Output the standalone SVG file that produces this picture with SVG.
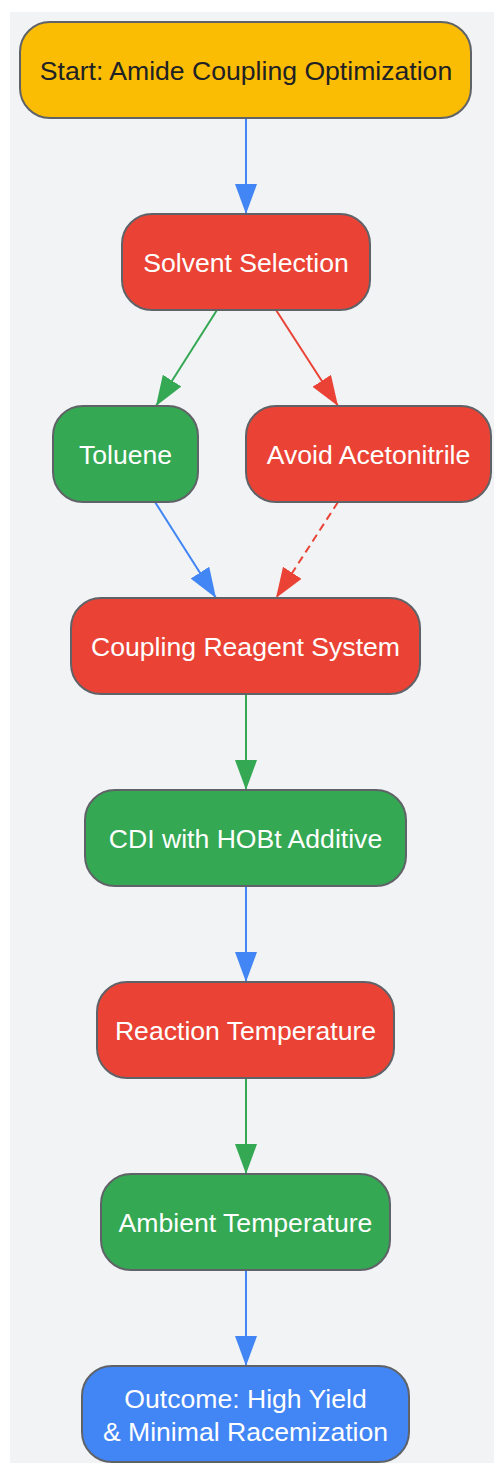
<svg xmlns="http://www.w3.org/2000/svg" width="494" height="1463" viewBox="0 0 494 1463">
<style>
.n{stroke:#5F6368;stroke-width:2}
.t{font-family:"Liberation Sans",Arial,sans-serif;font-size:26.6px;text-anchor:middle;dominant-baseline:central;fill:#ffffff}
.e{fill:none;stroke-width:2}
</style>
<defs>
<marker id="ab" markerUnits="userSpaceOnUse" markerWidth="32" markerHeight="24" refX="30" refY="11" orient="auto"><polygon points="0,0 30,11 0,22" fill="#4285F4"/></marker>
<marker id="ag" markerUnits="userSpaceOnUse" markerWidth="32" markerHeight="24" refX="30" refY="11" orient="auto"><polygon points="0,0 30,11 0,22" fill="#34A853"/></marker>
<marker id="ar" markerUnits="userSpaceOnUse" markerWidth="32" markerHeight="24" refX="30" refY="11" orient="auto"><polygon points="0,0 30,11 0,22" fill="#EA4335"/></marker>
</defs>
<rect x="10" y="12" width="484" height="1451" fill="#F1F3F5"/>
<g id="edges">
<line class="e" x1="246" y1="118" x2="246" y2="214" stroke="#4285F4" marker-end="url(#ab)"/>
<line class="e" x1="217" y1="310" x2="156" y2="406" stroke="#34A853" marker-end="url(#ag)"/>
<line class="e" x1="276" y1="310" x2="338" y2="406" stroke="#EA4335" marker-end="url(#ar)"/>
<line class="e" x1="155" y1="502" x2="216" y2="598" stroke="#4285F4" marker-end="url(#ab)"/>
<line class="e" x1="338" y1="502" x2="276" y2="598" stroke="#EA4335" stroke-dasharray="8,5" marker-end="url(#ar)"/>
<line class="e" x1="246" y1="694" x2="246" y2="790" stroke="#34A853" marker-end="url(#ag)"/>
<line class="e" x1="246" y1="886" x2="246" y2="982" stroke="#4285F4" marker-end="url(#ab)"/>
<line class="e" x1="246" y1="1078" x2="246" y2="1174" stroke="#34A853" marker-end="url(#ag)"/>
<line class="e" x1="246" y1="1270" x2="246" y2="1366" stroke="#4285F4" marker-end="url(#ab)"/>
</g>
<g id="start"><rect class="n" x="20" y="22" width="451" height="96" rx="30" fill="#FBBC04"/><text class="t" x="246" y="71" style="fill:#202124">Start: Amide Coupling Optimization</text></g>
<g id="solvent"><rect class="n" x="122" y="214" width="248" height="96" rx="30" fill="#EA4335"/><text class="t" x="246" y="263">Solvent Selection</text></g>
<g id="toluene"><rect class="n" x="53" y="406" width="145" height="96" rx="30" fill="#34A853"/><text class="t" x="125.5" y="455">Toluene</text></g>
<g id="avoid"><rect class="n" x="246" y="406" width="245" height="96" rx="30" fill="#EA4335"/><text class="t" x="368.5" y="455">Avoid Acetonitrile</text></g>
<g id="coupling"><rect class="n" x="71" y="598" width="349" height="96" rx="30" fill="#EA4335"/><text class="t" x="245.5" y="647">Coupling Reagent System</text></g>
<g id="cdi"><rect class="n" x="85" y="790" width="321" height="96" rx="30" fill="#34A853"/><text class="t" x="245.5" y="839">CDI with HOBt Additive</text></g>
<g id="reaction"><rect class="n" x="97" y="982" width="297" height="96" rx="30" fill="#EA4335"/><text class="t" x="245.5" y="1031">Reaction Temperature</text></g>
<g id="ambient"><rect class="n" x="101" y="1174" width="289" height="96" rx="30" fill="#34A853"/><text class="t" x="245.5" y="1223">Ambient Temperature</text></g>
<g id="outcome"><rect class="n" x="82" y="1366" width="327" height="96" rx="30" fill="#4285F4"/><text class="t" x="245.5" y="1399">Outcome: High Yield</text><text class="t" x="245.5" y="1432">&amp; Minimal Racemization</text></g>
</svg>
